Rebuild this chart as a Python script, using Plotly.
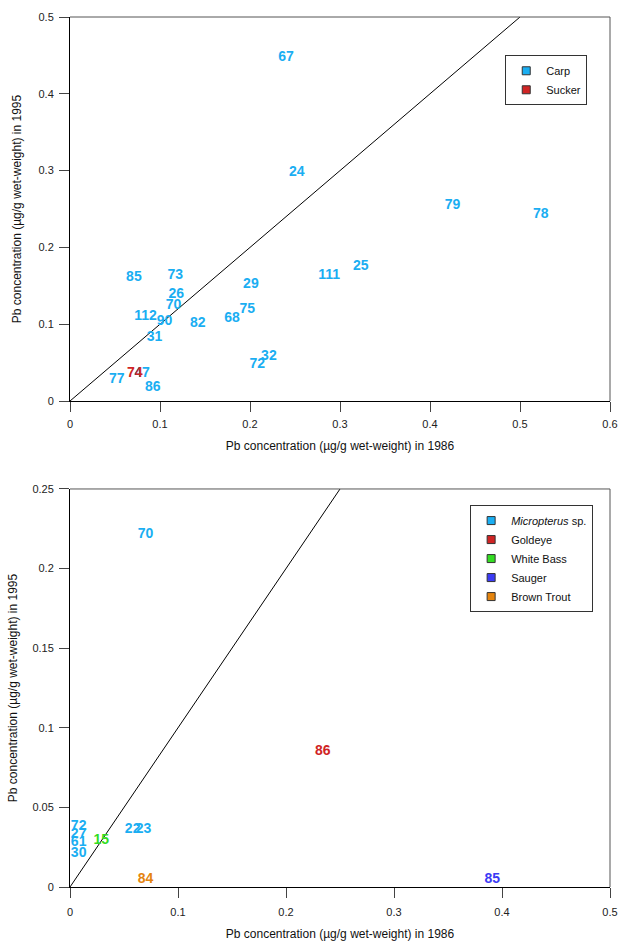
import plotly.graph_objects as go

# ---------------- Top panel data (Carp / Sucker) ----------------
carp_labels = ["67", "24", "79", "78", "111", "25", "29", "75", "85", "73", "26", "70",
               "112", "90", "82", "68", "31", "32", "72", "77", "47", "86"]
carp_x = [0.240, 0.252, 0.425, 0.523, 0.288, 0.323, 0.201, 0.197, 0.071, 0.117, 0.118, 0.115,
          0.084, 0.105, 0.142, 0.180, 0.094, 0.221, 0.208, 0.052, 0.080, 0.092]
carp_y = [0.447, 0.298, 0.255, 0.243, 0.164, 0.175, 0.152, 0.119, 0.161, 0.164, 0.139, 0.124,
          0.110, 0.103, 0.101, 0.108, 0.083, 0.058, 0.047, 0.028, 0.036, 0.018]

sucker_labels = ["74"]
sucker_x = [0.072]
sucker_y = [0.036]

# ---------------- Bottom panel data ----------------
micro_labels = ["70", "22", "23", "72", "27", "61", "30"]
micro_x = [0.070, 0.058, 0.068, 0.008, 0.008, 0.008, 0.008]
micro_y = [0.2215, 0.036, 0.036, 0.038, 0.0327, 0.0278, 0.0211]

goldeye_labels = ["86"]
goldeye_x = [0.234]
goldeye_y = [0.0854]

whitebass_labels = ["15"]
whitebass_x = [0.029]
whitebass_y = [0.0295]

sauger_labels = ["85"]
sauger_x = [0.391]
sauger_y = [0.005]

browntrout_labels = ["84"]
browntrout_x = [0.070]
browntrout_y = [0.005]

# 1:1 reference lines
diag_top = [0, 0.5]
diag_bottom = [0, 0.25]

# ticks
top_xticks = [0, 0.1, 0.2, 0.3, 0.4, 0.5, 0.6]
top_yticks = [0, 0.1, 0.2, 0.3, 0.4, 0.5]
bot_xticks = [0, 0.1, 0.2, 0.3, 0.4, 0.5]
bot_yticks = [0, 0.05, 0.1, 0.15, 0.2, 0.25]

xtitle = "Pb concentration (µg/g wet-weight) in 1986"
ytitle = "Pb concentration (µg/g wet-weight) in 1995"

C_BLUE = "#1AAEF2"
C_RED = "#D02424"
C_GREEN = "#33DD22"
C_SAUGER = "#3B3BF5"
C_ORANGE = "#E5840E"

FONT = "Arial, Liberation Sans, sans-serif"

fig = go.Figure()


def add_text(xs, ys, labels, color, xa, ya):
    fig.add_trace(go.Scatter(
        x=xs, y=ys, text=labels, mode="text", textposition="middle center",
        textfont=dict(family=FONT, size=14, color=color, weight="bold"),
        showlegend=False, cliponaxis=False, xaxis=xa, yaxis=ya, hoverinfo="skip"))


def add_legend(name, color, legend):
    fig.add_trace(go.Scatter(
        x=[None], y=[None], mode="markers", name=name,
        marker=dict(symbol="square", size=8, color=color, line=dict(color="#333", width=1)),
        legend=legend, showlegend=True))


# diagonal lines
fig.add_trace(go.Scatter(x=diag_top, y=diag_top, mode="lines",
                         line=dict(color="black", width=1), showlegend=False,
                         xaxis="x", yaxis="y", hoverinfo="skip"))
fig.add_trace(go.Scatter(x=diag_bottom, y=diag_bottom, mode="lines",
                         line=dict(color="black", width=1), showlegend=False,
                         xaxis="x2", yaxis="y2", hoverinfo="skip"))

# top labels
add_text(carp_x, carp_y, carp_labels, C_BLUE, "x", "y")
add_text(sucker_x, sucker_y, sucker_labels, C_RED, "x", "y")

# bottom labels
add_text(micro_x, micro_y, micro_labels, C_BLUE, "x2", "y2")
add_text(goldeye_x, goldeye_y, goldeye_labels, C_RED, "x2", "y2")
add_text(whitebass_x, whitebass_y, whitebass_labels, C_GREEN, "x2", "y2")
add_text(sauger_x, sauger_y, sauger_labels, C_SAUGER, "x2", "y2")
add_text(browntrout_x, browntrout_y, browntrout_labels, C_ORANGE, "x2", "y2")

# legends
add_legend("Carp", C_BLUE, "legend")
add_legend("Sucker", C_RED, "legend")
add_legend("<i>Micropterus</i> sp.", C_BLUE, "legend2")
add_legend("Goldeye", C_RED, "legend2")
add_legend("White Bass", C_GREEN, "legend2")
add_legend("Sauger", C_SAUGER, "legend2")
add_legend("Brown Trout", C_ORANGE, "legend2")

axis_common = dict(
    showline=True, linecolor="black", linewidth=1, mirror=False,
    ticks="outside", ticklen=10, tickcolor="#444", tickwidth=1,
    showgrid=False, zeroline=False, automargin=False,
    tickfont=dict(family=FONT, size=11, color="#222"),
    title_font=dict(family=FONT, size=12, color="#111"),
    ticklabeloverflow="allow",
)

top_dom = [0.5586, 1.0]
bot_dom = [0.0, 0.4575]

fig.update_layout(
    width=619, height=944,
    margin=dict(l=70, r=9, t=17, b=57),
    plot_bgcolor="white", paper_bgcolor="white",
    font=dict(family=FONT, size=11, color="#222"),
    xaxis=dict(axis_common, domain=[0, 1], range=[0, 0.6], tickvals=top_xticks,
               anchor="y", title=dict(text=xtitle, standoff=12), ticklabelstandoff=3),
    yaxis=dict(axis_common, domain=top_dom, range=[0, 0.5], tickvals=top_yticks,
               anchor="x", title=dict(text=ytitle, standoff=14), ticklabelstandoff=3),
    xaxis2=dict(axis_common, domain=[0, 1], range=[0, 0.5], tickvals=bot_xticks,
                anchor="y2", title=dict(text=xtitle, standoff=12), ticklabelstandoff=5),
    yaxis2=dict(axis_common, domain=bot_dom, range=[0, 0.25], tickvals=bot_yticks,
                anchor="x2", title=dict(text=ytitle, standoff=12), ticklabelstandoff=3),
    legend=dict(x=0.806, y=0.956, xanchor="left", yanchor="top",
                bordercolor="#333", borderwidth=1, bgcolor="white",
                font=dict(family=FONT, size=11, color="#111")),
    legend2=dict(x=0.741, y=0.439, xanchor="left", yanchor="top",
                 bordercolor="#333", borderwidth=1, bgcolor="white",
                 font=dict(family=FONT, size=11, color="#111")),
    shapes=[
        dict(type="line", xref="x domain", yref="y domain", x0=0, x1=1, y0=1, y1=1,
             line=dict(color="#555", width=1)),
        dict(type="line", xref="x domain", yref="y domain", x0=1, x1=1, y0=0, y1=1,
             line=dict(color="#555", width=1)),
        dict(type="line", xref="x2 domain", yref="y2 domain", x0=0, x1=1, y0=1, y1=1,
             line=dict(color="#555", width=1)),
        dict(type="line", xref="x2 domain", yref="y2 domain", x0=1, x1=1, y0=0, y1=1,
             line=dict(color="#555", width=1)),
    ],
)

# remove the default 8px page margin so the 619x944 figure fills the window exactly
fig.write_html("out.html",
               config={"displayModeBar": False},
               post_script="document.body.style.margin='0';document.body.style.overflow='hidden';")
